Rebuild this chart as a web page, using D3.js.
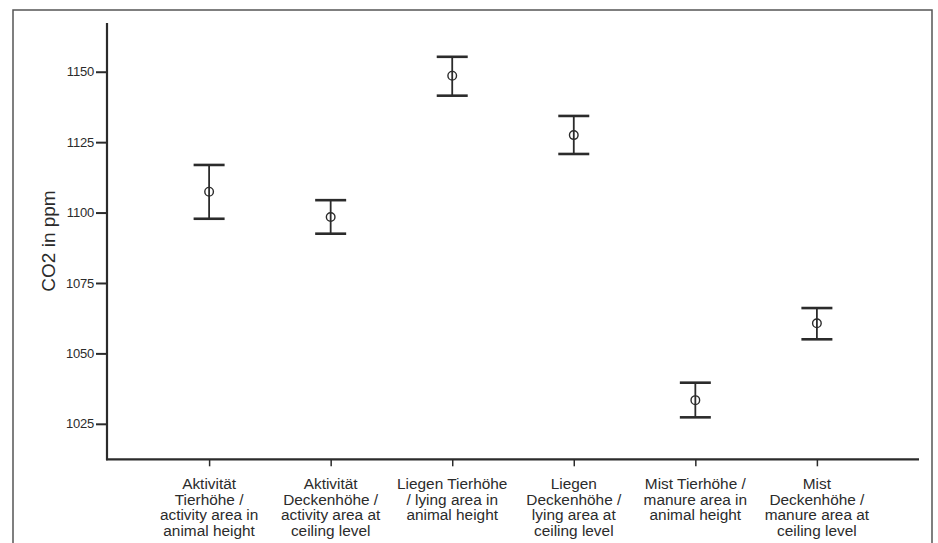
<!DOCTYPE html>
<html><head><meta charset="utf-8">
<script src="https://cdn.jsdelivr.net/npm/d3@7"></script>
<style>
html,body{margin:0;padding:0;background:#fff;}
svg{display:block;font-family:"Liberation Sans",Arial,sans-serif;}
</style></head>
<body><svg id="chart" width="938" height="543"></svg>
<script>
const categories = [
  ["Aktivität","Tierhöhe /","activity area in","animal height"],
  ["Aktivität","Deckenhöhe /","activity area at","ceiling level"],
  ["Liegen Tierhöhe","/ lying area in","animal height"],
  ["Liegen","Deckenhöhe /","lying area at","ceiling level"],
  ["Mist Tierhöhe /","manure area in","animal height"],
  ["Mist","Deckenhöhe /","manure area at","ceiling level"]
];
const means = [1107.4, 1098.4, 1148.6, 1127.5, 1033.4, 1060.7];
const upper = [1116.9, 1104.4, 1155.3, 1134.3, 1039.6, 1066.1];
const lower = [1097.8, 1092.5, 1141.5, 1120.8, 1027.3, 1055.0];
const yTicks = [1025, 1050, 1075, 1100, 1125, 1150];
const yTitle = "CO2 in ppm";

const svg = d3.select("#chart");
const ink = "#2b2b2b";

// outer frame
svg.append("rect").attr("x",13).attr("y",10).attr("width",919).attr("height",560)
  .attr("fill","none").attr("stroke","#555").attr("stroke-width",1.5);

const x0 = 107, x1 = 919, yTop = 23, yBot = 459.3;
const idx = d3.range(categories.length);
const x = d3.scalePoint().domain(idx).range([x0, x1]).padding(0.84);
const y = d3.scaleLinear().domain([1012.4, 1167.3]).range([yBot, yTop]);

// y axis
const ya = svg.append("g").attr("transform",`translate(${x0},0)`)
  .call(d3.axisLeft(y).tickValues(yTicks).tickFormat(d3.format("d")).tickSize(11).tickPadding(2).tickSizeOuter(0));
ya.select(".domain").remove();
ya.selectAll(".tick line").attr("stroke",ink).attr("stroke-width",2);
ya.selectAll(".tick text").attr("fill",ink).style("font-size","13px").style("letter-spacing","-0.2px");
svg.append("line").attr("x1",x0).attr("x2",x0).attr("y1",yTop).attr("y2",yBot+1)
  .attr("stroke",ink).attr("stroke-width",2.2);

// x axis
svg.append("line").attr("x1",x0-1).attr("x2",x1).attr("y1",yBot).attr("y2",yBot)
  .attr("stroke",ink).attr("stroke-width",2.2);
const xa = svg.append("g").attr("transform",`translate(0,${yBot})`)
  .call(d3.axisBottom(x).tickSize(7).tickFormat(""));
xa.select(".domain").remove();
xa.selectAll(".tick line").attr("stroke",ink).attr("stroke-width",1.5);

// x labels
const lab = svg.append("g");
idx.forEach(i=>{
  const t = lab.append("text").attr("x",x(i)).attr("y",489).attr("text-anchor","middle")
    .attr("fill",ink).style("font-size","15.4px");
  categories[i].forEach((l,k)=>{
    t.append("tspan").attr("x",x(i)).attr("dy",k===0?0:15.5).text(l);
  });
});

// y title
svg.append("text").attr("transform",`translate(55,${241}) rotate(-90)`)
  .attr("text-anchor","middle").attr("fill",ink).style("font-size","19px").text(yTitle);

// error bars
const g = svg.append("g");
const hw = 15.5;
g.selectAll("line.v").data(idx).join("line").attr("class","v")
  .attr("x1",i=>x(i)).attr("x2",i=>x(i)).attr("y1",i=>y(upper[i])).attr("y2",i=>y(lower[i]))
  .attr("stroke",ink).attr("stroke-width",1.8);
g.selectAll("line.u").data(idx).join("line").attr("class","u")
  .attr("x1",i=>x(i)-hw).attr("x2",i=>x(i)+hw).attr("y1",i=>y(upper[i])).attr("y2",i=>y(upper[i]))
  .attr("stroke",ink).attr("stroke-width",2.6);
g.selectAll("line.l").data(idx).join("line").attr("class","l")
  .attr("x1",i=>x(i)-hw).attr("x2",i=>x(i)+hw).attr("y1",i=>y(lower[i])).attr("y2",i=>y(lower[i]))
  .attr("stroke",ink).attr("stroke-width",2.6);
g.selectAll("circle").data(idx).join("circle")
  .attr("cx",i=>x(i)).attr("cy",i=>y(means[i])).attr("r",4.3)
  .attr("fill","none").attr("stroke",ink).attr("stroke-width",1.4);
</script></body></html>
